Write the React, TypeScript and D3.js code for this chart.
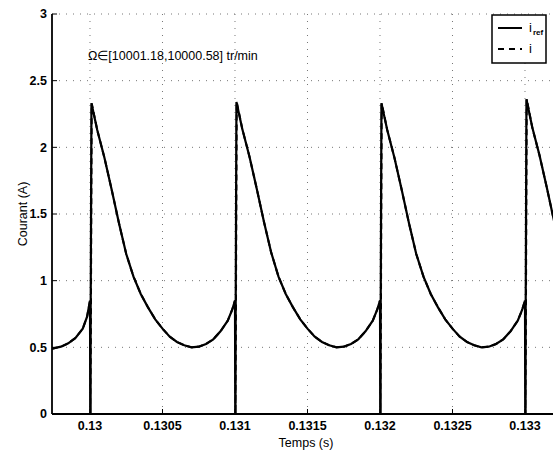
import React from "react";
import * as d3 from "d3";

// switching instants (s)
const switchTimes = [0.13, 0.131, 0.132, 0.133];
// peak current reached right after each switching instant (A)
const peakValues = [2.33, 2.34, 2.33, 2.36];
// offsets after a switching instant (ms) at which the current is read
const offsetsMs = [0, 0.05, 0.1, 0.15, 0.2, 0.25, 0.3, 0.35, 0.4, 0.45, 0.5, 0.55, 0.6, 0.65, 0.7, 0.75, 0.8, 0.85, 0.9, 0.95, 0.98, 1.0];
// current read per cycle (A), index 0 is the peak
const cycle1 = [2.33, 2.13, 1.92, 1.68, 1.43, 1.2, 1.03, 0.9, 0.8, 0.71, 0.64, 0.58, 0.54, 0.515, 0.5, 0.505, 0.525, 0.56, 0.62, 0.7, 0.78, 0.85];
const cycle2 = [2.34, 2.14, 1.93, 1.69, 1.44, 1.21, 1.03, 0.9, 0.8, 0.71, 0.64, 0.58, 0.54, 0.515, 0.5, 0.505, 0.525, 0.56, 0.62, 0.7, 0.78, 0.85];
const cycle3 = [2.33, 2.13, 1.92, 1.68, 1.43, 1.2, 1.03, 0.9, 0.8, 0.71, 0.64, 0.58, 0.54, 0.515, 0.5, 0.505, 0.525, 0.56, 0.62, 0.7, 0.78, 0.85];
const cycle4 = [2.36, 2.15, 1.94, 1.7, 1.45, 1.22];
const cycles = [cycle1, cycle2, cycle3, cycle4];
// before the first switching instant
const preTimes = [0.129738, 0.1298, 0.12985, 0.1299, 0.12995, 0.12998, 0.13];
const preValues = [0.49, 0.505, 0.53, 0.57, 0.64, 0.73, 0.85];

const xTicks = [0.13, 0.1305, 0.131, 0.1315, 0.132, 0.1325, 0.133];
const xTickLabels = ["0.13", "0.1305", "0.131", "0.1315", "0.132", "0.1325", "0.133"];
const yTicks = [0, 0.5, 1, 1.5, 2, 2.5, 3];
const yTickLabels = ["0", "0.5", "1", "1.5", "2", "2.5", "3"];

const annotation = "Ω∈[10001.18,10000.58] tr/min";
const xLabel = "Temps (s)";
const yLabel = "Courant (A)";

type P = [number, number];

function buildSeries(dropDelay: number): P[] {
  const pts: P[] = [];
  preTimes.forEach((t, i) => pts.push([t, preValues[i]]));
  switchTimes.forEach((T, c) => {
    const vals = cycles[c];
    pts.push([T + dropDelay, 0]);
    pts.push([T + dropDelay + 0.000008, peakValues[c]]);
    vals.forEach((v, k) => {
      if (k === 0) return;
      pts.push([T + offsetsMs[k] / 1000, v]);
    });
  });
  return pts;
}

const iRef = buildSeries(0.000002);
const iMeas = buildSeries(0.000004);

export default function App() {
  const W = 553, H = 451;
  const left = 52, top = 14, bottom = 414;
  const x = d3.scaleLinear().domain([0.129738, 0.1335]).range([left, 597.5]);
  const y = d3.scaleLinear().domain([0, 3]).range([bottom, top]);
  const line = d3.line<P>().x(d => x(d[0])).y(d => y(d[1])).curve(d3.curveLinear);
  const font = "'Liberation Sans', Arial, sans-serif";

  return (
    <svg width={W} height={H} style={{ position: "absolute", left: 0, top: 0, background: "#fff" }}>
      <defs>
        <clipPath id="plot">
          <rect x={left} y={top - 2} width={W - left} height={bottom - top + 2} />
        </clipPath>
      </defs>
      {/* grid */}
      <g stroke="#777" strokeWidth={1} strokeDasharray="1,6">
        {yTicks.filter(v => v > 0).map(v => (
          <line key={"gy" + v} x1={left} x2={W} y1={y(v)} y2={y(v)} />
        ))}
        {xTicks.map(v => (
          <line key={"gx" + v} x1={x(v)} x2={x(v)} y1={top} y2={bottom} />
        ))}
      </g>
      {/* data */}
      <g clipPath="url(#plot)" fill="none" stroke="#000">
        <path d={line(iMeas) || ""} strokeWidth={2} strokeDasharray="6,4" />
        <path d={line(iRef) || ""} strokeWidth={2.2} />
      </g>
      {/* axes */}
      <line x1={left} x2={left} y1={top} y2={bottom} stroke="#000" strokeWidth={1.8} />
      <line x1={left} x2={W} y1={bottom} y2={bottom} stroke="#000" strokeWidth={2} />
      <g stroke="#000" strokeWidth={1}>
        {yTicks.map(v => (
          <line key={"ty" + v} x1={left} x2={left + 5} y1={y(v)} y2={y(v)} />
        ))}
        {xTicks.map(v => (
          <line key={"tx" + v} x1={x(v)} x2={x(v)} y1={bottom} y2={bottom - 5} />
        ))}
      </g>
      <g fontFamily={font} fontSize={12.5} fontWeight="bold" fill="#000">
        {yTicks.map((v, i) => (
          <text key={"ly" + v} x={left - 5} y={y(v)} dy="0.35em" textAnchor="end">{yTickLabels[i]}</text>
        ))}
        {xTicks.map((v, i) => (
          <text key={"lx" + v} x={x(v)} y={bottom + 16} textAnchor="middle">{xTickLabels[i]}</text>
        ))}
      </g>
      <text x={306} y={447} fontFamily={font} fontSize={12.5} textAnchor="middle">{xLabel}</text>
      <text transform={`translate(27,${(top + bottom) / 2}) rotate(-90)`} fontFamily={font} fontSize={12.5} textAnchor="middle">{yLabel}</text>
      <text x={88} y={60} fontFamily={font} fontSize={12.5}>{annotation}</text>
      {/* legend */}
      <g>
        <rect x={492} y={15} width={54} height={48} fill="#fff" stroke="#000" strokeWidth={1.5} />
        <line x1={498} x2={522} y1={28} y2={28} stroke="#000" strokeWidth={2} />
        <text x={529} y={32} fontFamily={font} fontSize={13}>i</text>
        <text x={533} y={35} fontFamily={font} fontSize={8} fontWeight="bold">ref</text>
        <line x1={498} x2={522} y1={49} y2={49} stroke="#000" strokeWidth={2} strokeDasharray="6,5" />
        <text x={529} y={53} fontFamily={font} fontSize={13}>i</text>
      </g>
    </svg>
  );
}
